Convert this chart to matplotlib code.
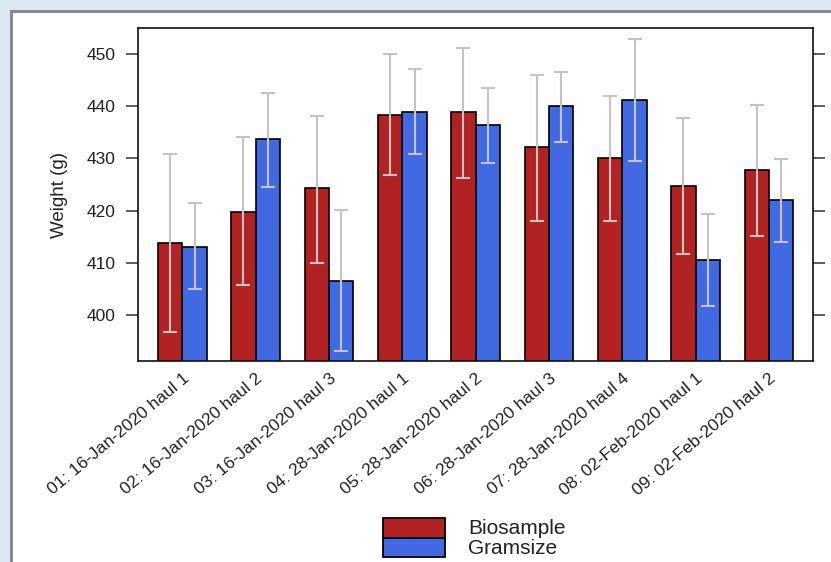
import numpy as np
import matplotlib
matplotlib.use("Agg")
import matplotlib.pyplot as plt
from matplotlib.patches import Rectangle
import matplotlib.transforms as mtransforms

plt.rcParams['font.family'] = ['Liberation Sans', 'DejaVu Sans']

categories = ["01: 16-Jan-2020 haul 1", "02: 16-Jan-2020 haul 2", "03: 16-Jan-2020 haul 3",
              "04: 28-Jan-2020 haul 1", "05: 28-Jan-2020 haul 2", "06: 28-Jan-2020 haul 3",
              "07: 28-Jan-2020 haul 4", "08: 02-Feb-2020 haul 1", "09: 02-Feb-2020 haul 2"]
biosample = [413.7, 419.7, 424.3, 438.3, 438.9, 432.1, 430.0, 424.7, 427.7]
biosample_lo = [396.8, 405.7, 410.0, 426.8, 426.3, 418.0, 418.0, 411.7, 415.1]
biosample_hi = [430.8, 434.0, 438.2, 450.0, 451.1, 446.0, 442.0, 437.7, 440.3]
gramsize = [413.1, 433.7, 406.6, 438.9, 436.3, 440.0, 441.1, 410.5, 422.0]
gramsize_lo = [404.9, 424.6, 393.2, 430.8, 429.1, 433.1, 429.4, 401.7, 414.0]
gramsize_hi = [421.4, 442.6, 420.2, 447.1, 443.4, 446.6, 452.8, 419.4, 429.8]
series_names = ["Biosample", "Gramsize"]
yticks = [400, 410, 420, 430, 440, 450]

W, H = 831, 562
fig = plt.figure(figsize=(W / 100, H / 100), dpi=100)
fig.patch.set_facecolor('#dde8f5')

# white panel with grey border
panel = Rectangle((10.5 / W, -0.05), 1.1, 1.05 - 10.5 / H, transform=fig.transFigure,
                  facecolor='white', edgecolor='#8a8a8a', linewidth=2.2, zorder=-5)
fig.patches.append(panel)

left, right, top, bottom = 138.3, 813.0, 28.3, 361.0
ax = fig.add_axes([left / W, 1 - bottom / H, (right - left) / W, (bottom - top) / H])
ax.set_zorder(1)
ax.set_facecolor('white')

red = '#b22222'
blue = '#4169e1'
x = np.arange(1, len(categories) + 1)
bw = 1 / 3

ax.bar(x - bw / 2, biosample, width=bw, color=red, edgecolor='black', linewidth=1.2, zorder=2)
ax.bar(x + bw / 2, gramsize, width=bw, color=blue, edgecolor='black', linewidth=1.2, zorder=2)

b = np.array(biosample); g = np.array(gramsize)
ax.errorbar(x - bw / 2, b, yerr=[b - np.array(biosample_lo), np.array(biosample_hi) - b],
            fmt='none', ecolor='#c4c4c4', elinewidth=1.5, capsize=5, capthick=1.5, zorder=3)
ax.errorbar(x + bw / 2, g, yerr=[g - np.array(gramsize_lo), np.array(gramsize_hi) - g],
            fmt='none', ecolor='#c4c4c4', elinewidth=1.5, capsize=5, capthick=1.5, zorder=3)

ax.set_xlim(0.4, 9.6)
ax.set_ylim(391.2, 454.9)
ax.set_yticks(yticks)
ax.set_yticklabels([str(v) for v in yticks])
ax.tick_params(axis='y', which='both', left=True, right=True, direction='out', length=8.6,
               width=1.1, color='#333333', labelsize=12.5, labelcolor='#222222', pad=8)
ax.set_xticks(x)
ax.set_xticklabels(categories, rotation=40, ha='right', va='top', rotation_mode='anchor',
                   fontsize=12.5, color='#222222')
ax.tick_params(axis='x', length=0, pad=0)
offset = mtransforms.ScaledTranslation(0 / 100, -10 / 100, fig.dpi_scale_trans)
for lab in ax.get_xticklabels():
    lab.set_transform(lab.get_transform() + offset)

for s in ax.spines.values():
    s.set_linewidth(1.2)
    s.set_color('#111111')

ax.set_ylabel('Weight (g)', fontsize=13.5, color='#222222', va='center')
ax.yaxis.set_label_coords((60 - left) / (right - left), 0.5)

# legend (stacked boxes)
colors = [red, blue]
box_x0, box_x1 = 383, 445
box_tops = [518, 537.5]
box_h = 19.5
for name, col, ty in zip(series_names, colors, box_tops):
    r = Rectangle((box_x0 / W, 1 - (ty + box_h) / H), (box_x1 - box_x0) / W, box_h / H,
                  transform=fig.transFigure, facecolor=col, edgecolor='black', linewidth=1.3,
                  zorder=5)
    fig.patches.append(r)
    fig.text(468 / W, 1 - (ty + box_h / 2 + 1) / H, name, fontsize=15, color='#222222',
             ha='left', va='center')

fig.savefig('out.png', dpi=100, facecolor=fig.get_facecolor())
